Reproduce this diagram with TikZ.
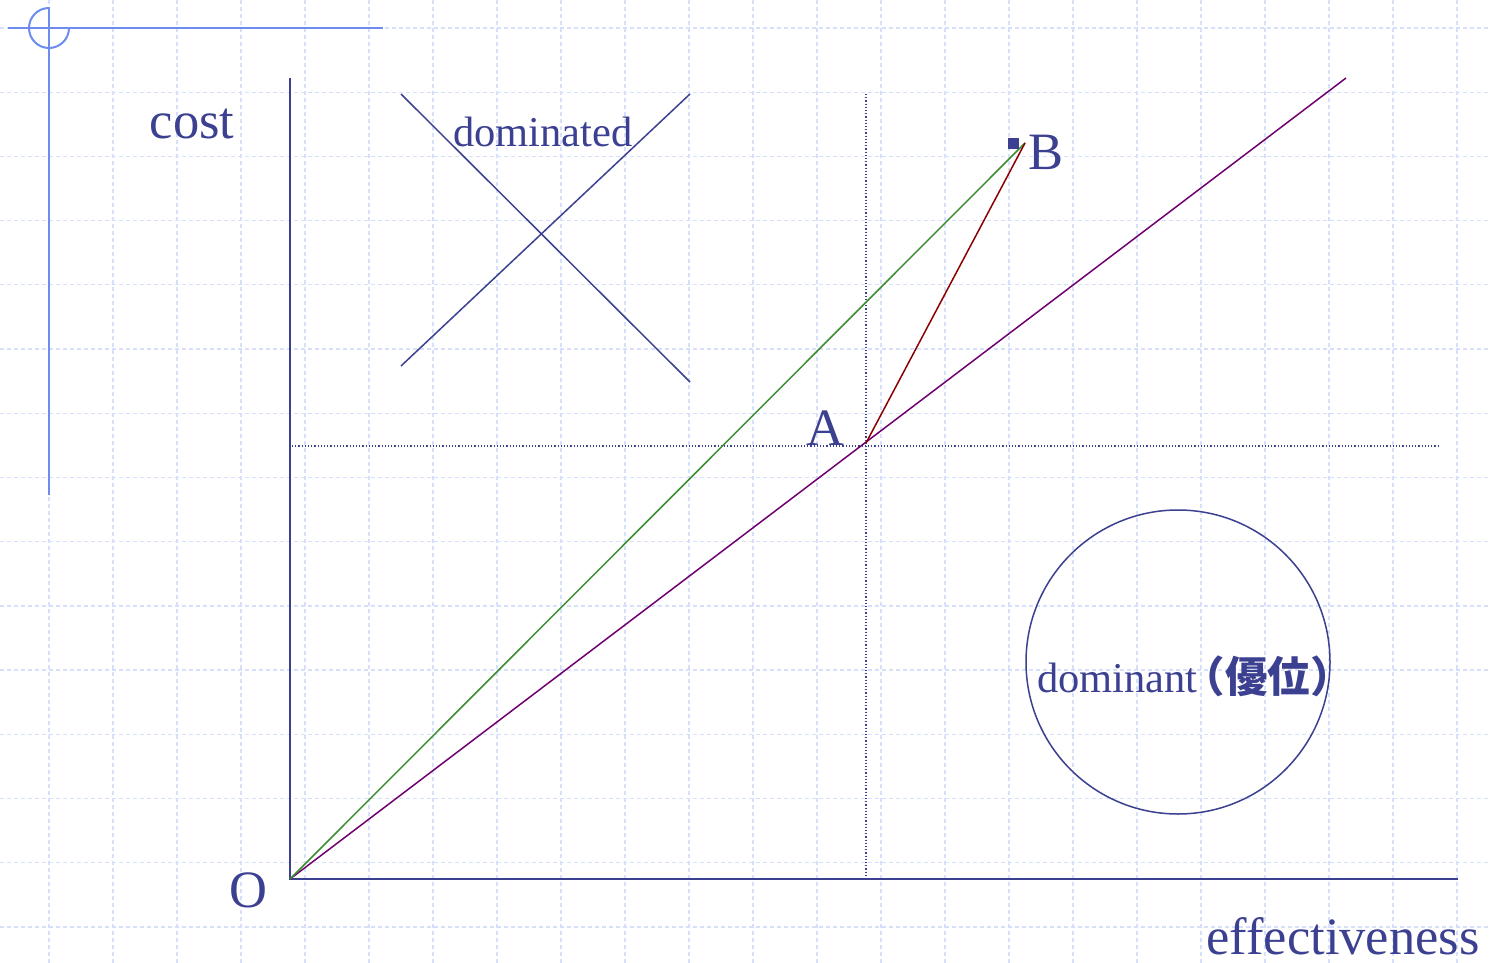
\documentclass[tikz,border=0pt]{standalone}
\usepackage{fontspec}
\setmainfont{Liberation Serif}
\newfontfamily\cjk{Noto Sans CJK JP}
\definecolor{ink}{RGB}{60,64,145}
\definecolor{gridc}{RGB}{214,224,250}
\definecolor{deco}{RGB}{110,140,240}
\definecolor{purp}{RGB}{112,0,112}
\definecolor{grn}{RGB}{60,140,50}
\definecolor{dred}{RGB}{140,0,0}
\begin{document}
\begin{tikzpicture}[x=1pt,y=-1pt,
  gridline/.style={gridc,line width=1.3pt,dash pattern=on 4pt off 3pt},
  axisline/.style={ink,line width=2pt},
  guide/.style={ink,line width=1.2pt,dotted},
  lbl/.style={text=ink,inner sep=0pt,font=\fontsize{52.5}{60}\selectfont},
  mlbl/.style={text=ink,inner sep=0pt,font=\fontsize{42.5}{48}\selectfont},
  thin/.style={line width=1.5pt}]
\useasboundingbox[fill=white] (0,0) rectangle (1491,963);
% grid
\foreach \k in {0,...,22} \draw[gridline] ({49+64*\k},0) -- ({49+64*\k},963);
\foreach \k in {0,...,14} \draw[gridline] (0,{28+64.21*\k}) -- (1491,{28+64.21*\k});
% decoration
\coordinate (dl) at (8,28); \coordinate (dr) at (383,28);
\coordinate (dt) at (49,7); \coordinate (db) at (49,495);
\draw[deco,line width=2pt] (dl) -- (dr);
\draw[deco,line width=2pt] (dt) -- (db);
\draw[deco,line width=2pt] (49,8) arc[start angle=270,end angle=0,radius=20];
% key points
\coordinate (O) at (290,879);
\coordinate (ytop) at (290,78);
\coordinate (xend) at (1458,879);
\coordinate (A) at (866,443);
\coordinate (B) at (1025,143);
\coordinate (P) at (1346,78);
\coordinate (hl) at (292,446); \coordinate (hr) at (1440,446);
\coordinate (vt) at (866,94); \coordinate (vb) at (866,879);
% guides
\draw[guide] (hl) -- (hr);
\draw[guide] (vt) -- (vb);
% axes
\draw[axisline] (ytop) -- (O) -- (xend);
% lines
\draw[purp,thin] (O) -- (P);
\draw[grn,thin] (O) -- (B);
\draw[dred,thin] (A) -- (B);
\node[fill=ink,minimum size=11pt,inner sep=0pt] (sq) at (1013,144) {};
% dominated X
\coordinate (x1a) at (401,94); \coordinate (x1b) at (690,382);
\coordinate (x2a) at (690,94); \coordinate (x2b) at (401,366);
\draw[ink,thin] (x1a) -- (x1b);
\draw[ink,thin] (x2a) -- (x2b);
% dominant circle
\node[draw=ink,line width=1.5pt,circle,minimum size=304pt,inner sep=0pt] (circ) at (1178,662) {};
% labels
\node[lbl] (tcost) at (192,124) {cost};
\node[lbl] (teff) at (1343,936) {effectiveness};
\node[lbl] (tO) at (248,890) {O};
\node[lbl] (tA) at (825,428) {A};
\node[lbl] (tB) at (1046,152) {B};
\node[mlbl] (tdom) at (543,132) {dominated};
\node[mlbl,anchor=base west] (tdomi) at (1037,692) {dominant\kern-15pt{\cjk\bfseries （優位）}};
\end{tikzpicture}
\end{document}
